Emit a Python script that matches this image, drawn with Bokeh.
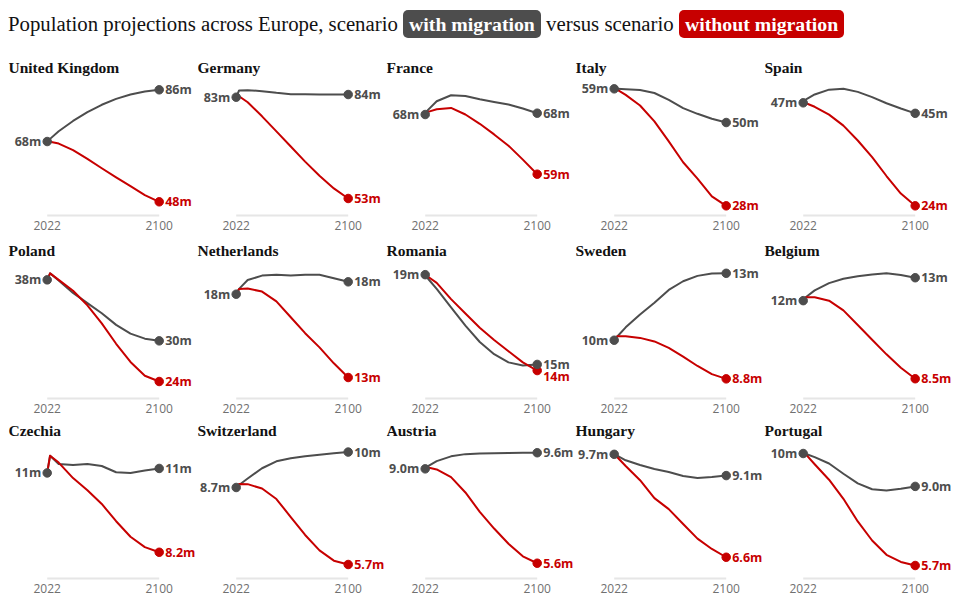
from bokeh.plotting import figure
from bokeh.models import Range1d, Div, Spacer
from bokeh.layouts import column, row
from bokeh.core.properties import value
from bokeh.embed import file_html
from bokeh.resources import INLINE

# ---------------- data ----------------
years = [2022, 2024, 2030, 2040, 2050, 2060, 2070, 2080, 2090, 2100]
shown_years = [2022, 2100]
year_labels = ["2022", "2100"]

countries = ["United Kingdom", "Germany", "France", "Italy", "Spain",
             "Poland", "Netherlands", "Romania", "Sweden", "Belgium",
             "Czechia", "Switzerland", "Austria", "Hungary", "Portugal"]

uk_with = [68.5, 69.4, 72.0, 75.5, 78.5, 81.0, 83.0, 84.5, 85.5, 86.1]
uk_without = [68.5, 68.4, 67.8, 65.6, 62.6, 59.4, 56.3, 53.3, 50.3, 48.0]
de_with = [83.2, 85.2, 85.3, 85.0, 84.5, 84.1, 84.1, 84.0, 84.0, 84.0]
de_without = [83.2, 83.5, 81.7, 77.5, 73.0, 68.5, 64.0, 59.8, 56.0, 53.0]
fr_with = [68.0, 68.7, 70.0, 70.9, 70.8, 70.3, 69.9, 69.5, 68.9, 68.2]
fr_without = [68.0, 68.4, 68.8, 69.0, 68.0, 66.6, 65.0, 63.3, 61.2, 59.0]
it_with = [58.9, 58.9, 58.8, 58.6, 57.8, 56.0, 53.8, 52.3, 51.0, 50.0]
it_without = [58.9, 58.7, 57.3, 54.5, 50.3, 45.0, 39.5, 35.2, 30.5, 28.0]
es_with = [47.5, 48.3, 49.4, 50.5, 50.7, 50.0, 48.8, 47.4, 46.2, 45.1]
es_without = [47.5, 47.4, 46.6, 44.8, 42.3, 38.9, 35.1, 30.8, 26.8, 24.0]
pl_with = [38.4, 39.3, 38.3, 36.6, 35.2, 33.8, 32.2, 31.0, 30.3, 30.0]
pl_without = [38.4, 39.3, 38.4, 36.9, 34.9, 32.4, 29.6, 27.1, 25.2, 24.4]
nl_with = [17.7, 18.0, 18.5, 18.75, 18.8, 18.75, 18.8, 18.8, 18.6, 18.4]
nl_without = [17.7, 18.0, 18.02, 17.85, 17.3, 16.4, 15.5, 14.7, 13.8, 13.0]
ro_with = [19.0, 18.8, 18.3, 17.4, 16.5, 15.7, 15.1, 14.7, 14.55, 14.6]
ro_without = [19.0, 18.9, 18.6, 17.8, 17.1, 16.4, 15.8, 15.25, 14.7, 14.3]
se_with = [10.45, 10.6, 11.0, 11.55, 12.05, 12.6, 12.97, 13.2, 13.3, 13.31]
se_without = [10.45, 10.62, 10.62, 10.55, 10.4, 10.12, 9.75, 9.35, 9.0, 8.8]
be_with = [11.7, 11.85, 12.12, 12.42, 12.6, 12.7, 12.77, 12.82, 12.75, 12.64]
be_without = [11.7, 11.84, 11.84, 11.7, 11.3, 10.7, 10.1, 9.5, 8.95, 8.5]
cz_with = [10.5, 11.0, 10.76, 10.73, 10.76, 10.7, 10.52, 10.5, 10.57, 10.63]
cz_without = [10.5, 11.0, 10.8, 10.35, 10.0, 9.6, 9.1, 8.65, 8.35, 8.2]
ch_with = [8.7, 8.8, 9.05, 9.45, 9.72, 9.84, 9.92, 9.98, 10.03, 10.08]
ch_without = [8.7, 8.84, 8.83, 8.66, 8.25, 7.55, 6.85, 6.25, 5.85, 5.7]
at_with = [9.0, 9.1, 9.28, 9.45, 9.53, 9.55, 9.56, 9.57, 9.58, 9.58]
at_without = [9.0, 9.05, 8.98, 8.7, 8.15, 7.45, 6.85, 6.3, 5.85, 5.6]
hu_with = [9.7, 9.66, 9.52, 9.38, 9.26, 9.17, 9.05, 8.99, 9.02, 9.06]
hu_without = [9.7, 9.62, 9.35, 8.92, 8.38, 8.05, 7.6, 7.16, 6.85, 6.6]
pt_with = [10.4, 10.38, 10.25, 9.98, 9.55, 9.15, 8.9, 8.85, 8.92, 9.02]
pt_without = [10.4, 10.35, 9.95, 9.3, 8.5, 7.55, 6.75, 6.15, 5.85, 5.7]

start_labels = ["68m", "83m", "68m", "59m", "47m", "38m", "18m", "19m", "10m", "12m",
                "11m", "8.7m", "9.0m", "9.7m", "10m"]
with_labels = ["86m", "84m", "68m", "50m", "45m", "30m", "18m", "15m", "13m", "13m",
               "11m", "10m", "9.6m", "9.1m", "9.0m"]
without_labels = ["48m", "53m", "59m", "28m", "24m", "24m", "13m", "14m", "8.8m", "8.5m",
                  "8.2m", "5.7m", "5.6m", "6.6m", "5.7m"]

with_series = [uk_with, de_with, fr_with, it_with, es_with, pl_with, nl_with, ro_with,
               se_with, be_with, cz_with, ch_with, at_with, hu_with, pt_with]
without_series = [uk_without, de_without, fr_without, it_without, es_without, pl_without,
                  nl_without, ro_without, se_without, be_without, cz_without, ch_without,
                  at_without, hu_without, pt_without]

# ---------------- layout (per-panel vertical scale) ----------------
y_base = [43.34, 47.93, 52.77, 25.44, 21.79, 22.06, 11.815, 12.93, 7.96, 7.69,
          7.44, 5.155, 5.05, 5.96, 5.155]          # value sitting on the baseline
px_per_m = [2.94, 3.354, 6.63, 3.786, 4.383, 7.26, 17.72, 20.4, 23.4, 24.4,
            34.5, 25.67, 27.76, 33.2, 23.83]
without_label_dy = [0, 0, 0, 0, 0, 0, 0, 6, 0, 0, 0, 0, 0, 0, 0]

GRAY = "#4d4d4d"
RED = "#c70000"
PANEL_W = 189
ABOVE = [175, 164, 161]
BELOW = [19, 19, 19]
X_LEFT_PX = 38.7
PX_PER_YEAR = 112 / 78


def make_panel(i):
    r = i // 5
    s = px_per_m[i]
    vb = y_base[i]
    x0 = 2022 - X_LEFT_PX / PX_PER_YEAR
    x1 = x0 + PANEL_W / PX_PER_YEAR
    p = figure(width=PANEL_W, height=ABOVE[r] + BELOW[r],
               x_range=Range1d(x0, x1),
               y_range=Range1d(vb - BELOW[r] / s, vb + ABOVE[r] / s),
               x_axis_type=None, y_axis_type=None,
               output_backend="svg", toolbar_location=None, min_border=0)
    p.outline_line_color = None
    p.grid.visible = False
    p.background_fill_color = "white"
    p.border_fill_color = "white"

    # baseline + years
    p.line(shown_years, [vb, vb], line_color="#e6e6e6", line_width=2)
    p.text(shown_years, [vb, vb], text=year_labels, text_font=value("Open Sans"),
           text_font_size="12px", text_color="#707070", text_align="center",
           text_baseline="middle", y_offset=10)

    # country title
    p.text([x0], [vb + 148 / s], text=[countries[i]], text_font=value("Liberation Serif"),
           text_font_style="bold", text_font_size="15.5px", text_color="#121212",
           text_align="left", text_baseline="middle")

    w = with_series[i]
    wo = without_series[i]
    p.line(years, w, line_color=GRAY, line_width=2, line_join="round", line_cap="round")
    p.line(years, wo, line_color=RED, line_width=2, line_join="round", line_cap="round")

    p.scatter([years[-1]], [wo[-1]], size=8.5, color=RED)
    p.scatter([years[-1]], [w[-1]], size=8.5, color=GRAY)
    p.scatter([years[0]], [w[0]], size=8.5, color=GRAY)

    common = dict(text_font=value("Open Sans"), text_font_style="bold",
                  text_font_size="12.5px", text_baseline="middle")
    p.text([years[0]], [w[0]], text=[start_labels[i]], text_color=GRAY,
           text_align="right", x_offset=-6, **common)
    p.text([years[-1]], [w[-1]], text=[with_labels[i]], text_color=GRAY,
           text_align="left", x_offset=6, **common)
    p.text([years[-1]], [wo[-1]], text=[without_labels[i]], text_color=RED,
           text_align="left", x_offset=6, y_offset=without_label_dy[i], **common)
    return p


panels = [make_panel(i) for i in range(15)]

pill = ("font-size:19.8px;color:#ffffff;font-weight:bold;padding:3px 6px;"
        "border-radius:5px;")
title_html = (
    "<div style=\"font-family:'Liberation Serif',serif;font-size:20.8px;color:#121212;"
    "line-height:30px;white-space:nowrap;\">"
    "Population projections across Europe, scenario "
    "<span style=\"background:#4d4d4d;" + pill + "\">with migration</span> versus scenario "
    "<span style=\"background:#c70000;" + pill + "\">without migration</span></div>"
)
header = Div(text=title_html, width=945, height=30, margin=(9, 0, 1, 8))


def panel_row(ps):
    return row(Spacer(width=8, height=10), *ps)


layout = column(header,
                panel_row(panels[0:5]),
                panel_row(panels[5:10]),
                panel_row(panels[10:15]))

open("out.html", "w").write(file_html(layout, INLINE))
